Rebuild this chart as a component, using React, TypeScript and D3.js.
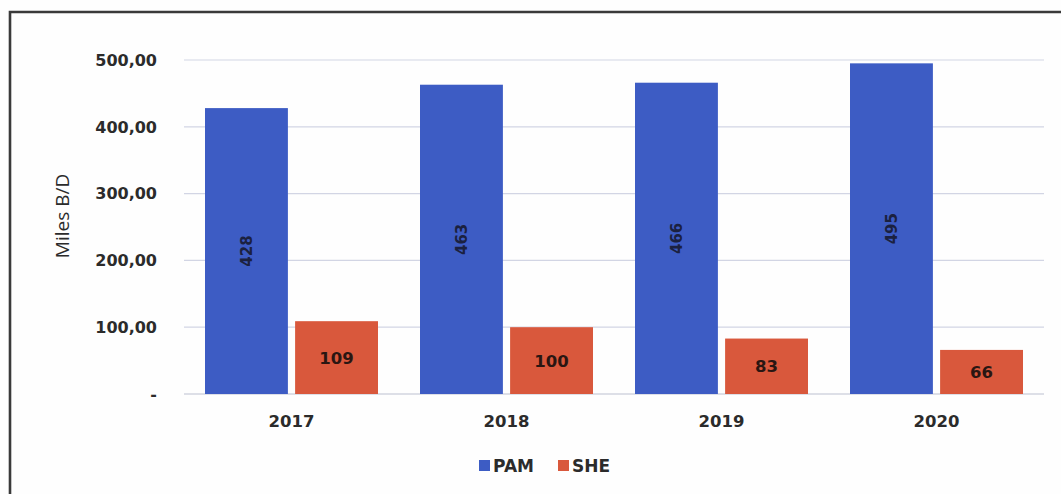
import React from 'react';
import * as d3 from 'd3';

const years = ['2017', '2018', '2019', '2020'];
const series = ['PAM', 'SHE'];
const pamValues = [428, 463, 466, 495];
const sheValues = [109, 100, 83, 66];
const yTicks = [0, 100, 200, 300, 400, 500];

const colors: Record<string, string> = { PAM: '#3d5cc4', SHE: '#d9583c' };

const W = 1061;
const H = 494;

const esFormat = d3.formatLocale({ decimal: ',', thousands: '.', grouping: [3], currency: ['', ''] }).format(',.2f');
const tickLabel = (v: number) => (v === 0 ? '-' : esFormat(v));

export default function App() {
  const x0 = d3.scaleBand<string>().domain(years).range([184, 1044]).padding(0);
  const x1 = d3
    .scaleBand<string>()
    .domain(series)
    .range([21, x0.bandwidth() - 21])
    .paddingInner(0.08);
  const y = d3.scaleLinear().domain([0, 500]).range([394, 60]);

  const rows = years.map((yr, i) => ({ year: yr, PAM: pamValues[i], SHE: sheValues[i] }));

  return (
    <svg
      width={W}
      height={H}
      style={{ position: 'absolute', left: 0, top: 0, background: '#fefefe' }}
    >
      {/* frame (only top and left edges are visible in the crop) */}
      <path d={`M10,${H + 5} L10,12 L${W + 5},12`} fill="none" stroke="#3a3a3a" strokeWidth={2.6} />

      {/* gridlines */}
      {yTicks.map((t) => (
        <line
          key={t}
          x1={x0.range()[0]}
          x2={x0.range()[1]}
          y1={y(t)}
          y2={y(t)}
          stroke={t === 0 ? '#bcc0cf' : '#d2d5e4'}
          strokeWidth={1.2}
        />
      ))}

      {/* y tick labels */}
      {yTicks.map((t) => (
        <text
          key={t}
          x={157}
          y={y(t)}
          dy="0.36em"
          textAnchor="end"
          fontFamily="DejaVu Sans"
          fontWeight="bold"
          fontSize={16}
          fill="#2b2b2b"
        >
          {tickLabel(t)}
        </text>
      ))}

      {/* y axis title */}
      <text
        transform={`translate(69,216) rotate(-90)`}
        textAnchor="middle"
        fontFamily="Open Sans"
        fontSize={19}
        fill="#2b2b2b"
      >
        Miles B/D
      </text>

      {/* bars */}
      {rows.map((r) => (
        <g key={r.year} transform={`translate(${x0(r.year)},0)`}>
          {series.map((s) => {
            const v = (r as any)[s] as number;
            const bx = x1(s)!;
            const bw = x1.bandwidth();
            const top = y(v);
            const mid = (top + y(0)) / 2;
            return (
              <g key={s}>
                <rect x={bx} y={top} width={bw} height={y(0) - top} fill={colors[s]} />
                {s === 'PAM' ? (
                  <text
                    transform={`translate(${bx + bw / 2},${mid}) rotate(-90)`}
                    textAnchor="middle"
                    dy="0.36em"
                    fontFamily="DejaVu Sans"
                    fontWeight="bold"
                    fontSize={15}
                    fill="#1b2140"
                  >
                    {v}
                  </text>
                ) : (
                  <text
                    x={bx + bw / 2}
                    y={mid}
                    dy="0.36em"
                    textAnchor="middle"
                    fontFamily="DejaVu Sans"
                    fontWeight="bold"
                    fontSize={16.5}
                    fill="#2a1612"
                  >
                    {v}
                  </text>
                )}
              </g>
            );
          })}
        </g>
      ))}

      {/* x labels */}
      {years.map((yr) => (
        <text
          key={yr}
          x={x0(yr)! + x0.bandwidth() / 2}
          y={427}
          textAnchor="middle"
          fontFamily="DejaVu Sans"
          fontWeight="bold"
          fontSize={16.5}
          fill="#2b2b2b"
        >
          {yr}
        </text>
      ))}

      {/* legend */}
      {series.map((s, i) => {
        const lx = 479 + i * 79;
        return (
          <g key={s} transform={`translate(${lx},460)`}>
            <rect x={0} y={0} width={11} height={11} fill={colors[s]} />
            <text
              x={14}
              y={11.5}
              fontFamily="DejaVu Sans"
              fontWeight="bold"
              fontSize={17}
              fill="#2b2b2b"
            >
              {s}
            </text>
          </g>
        );
      })}
    </svg>
  );
}
